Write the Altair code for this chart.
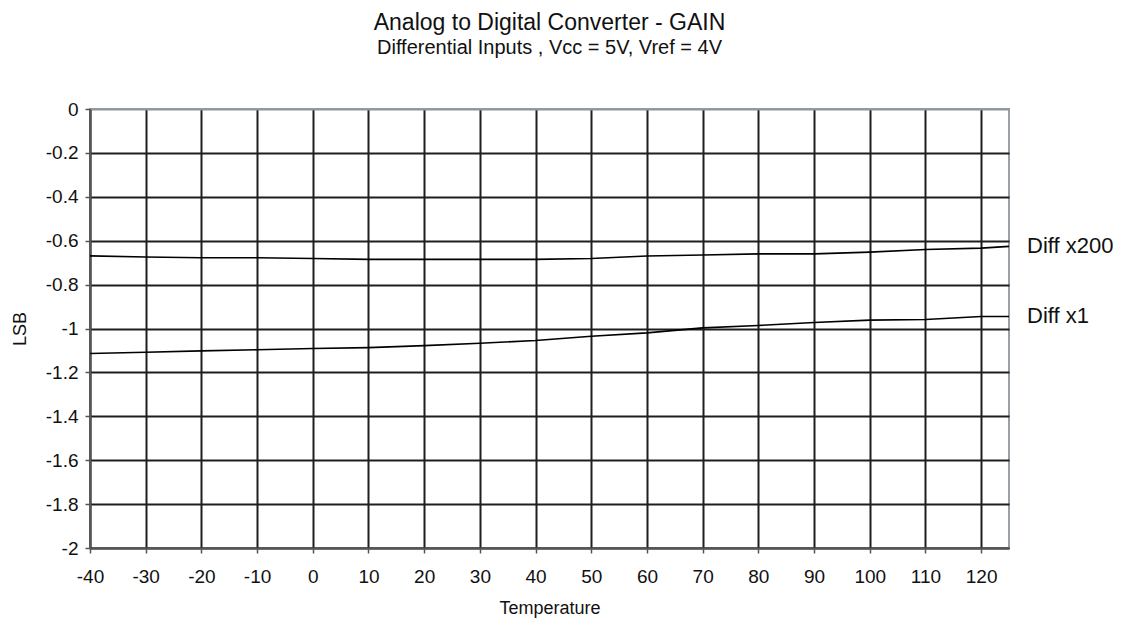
import altair as alt
import pandas as pd

# ---- data ----
temps = [-40, -30, -20, -10, 0, 10, 20, 30, 40, 50, 60, 70, 80, 90, 100, 110, 120, 125]
diff_x200 = [-0.669, -0.674, -0.678, -0.678, -0.681, -0.685, -0.685, -0.685, -0.685,
             -0.681, -0.670, -0.665, -0.660, -0.660, -0.652, -0.640, -0.634, -0.626]
diff_x1 = [-1.114, -1.108, -1.102, -1.097, -1.091, -1.087, -1.078, -1.067, -1.055,
           -1.035, -1.020, -0.997, -0.986, -0.973, -0.962, -0.959, -0.945, -0.945]
series_names = ["Diff x200", "Diff x1"]
x_ticks = [-40, -30, -20, -10, 0, 10, 20, 30, 40, 50, 60, 70, 80, 90, 100, 110, 120]
y_ticks = [0, -0.2, -0.4, -0.6, -0.8, -1, -1.2, -1.4, -1.6, -1.8, -2]

rows = []
for name, vals in zip(series_names, [diff_x200, diff_x1]):
    for t, v in zip(temps, vals):
        rows.append({"Temperature": t, "LSB": v, "series": name})
df = pd.DataFrame(rows)
last = df[df["Temperature"] == temps[-1]]

FONT = "Liberation Sans"
GRID = "#1e1e1e"

x = alt.X(
    "Temperature:Q",
    scale=alt.Scale(domain=[-40, 125], nice=False, zero=False),
    axis=alt.Axis(
        values=x_ticks,
        labelExpr="replace(datum.label, '\u2212', '-')",
        title="Temperature",
        titleFontWeight="normal",
        titleFontSize=18,
        titlePadding=13,
        labelFontSize=19,
        labelPadding=14,
        tickSize=5,
        labelFlush=False,
        gridColor=GRID,
    ),
)
y = alt.Y(
    "LSB:Q",
    scale=alt.Scale(domain=[-2, 0], nice=False, zero=False),
    axis=alt.Axis(
        values=y_ticks,
        labelExpr="datum.value == 0 ? '0' : '-' + format(-datum.value, '~g')",
        title="LSB",
        titleFontWeight="normal",
        titleFontSize=18,
        titlePadding=16,
        labelFontSize=19,
        labelPadding=7,
        tickSize=5,
        gridColor=alt.condition("datum.value == 0", alt.value("#8f959b"), alt.value(GRID)),
    ),
)

lines = alt.Chart(df).mark_line(color="black", strokeWidth=1.6).encode(
    x=x, y=y, detail="series:N"
)
labels = alt.Chart(last).mark_text(
    align="left", baseline="middle", dx=18, fontSize=22, font=FONT, color="#111"
).encode(x="Temperature:Q", y="LSB:Q", text="series:N")

chart = (
    alt.layer(lines, labels)
    .properties(
        width=919,
        height=439,
        autosize=alt.AutoSizeParams(type="none"),
        padding={"left": 82, "top": 101, "right": 110, "bottom": 70},
        title=alt.TitleParams(
            text="Analog to Digital Converter - GAIN",
            subtitle="Differential Inputs , Vcc = 5V, Vref = 4V",
            font=FONT,
            subtitleFont=FONT,
            fontSize=23,
            subtitleFontSize=20,
            fontWeight="normal",
            color="#111",
            subtitleColor="#111",
            anchor="middle",
            offset=42,
            subtitlePadding=3,
        ),
    )
    .configure_view(stroke="#9aa0a6", strokeWidth=2)
    .configure_axis(
        labelFont=FONT,
        titleFont=FONT,
        labelColor="#111",
        titleColor="#111",
        domainColor="#555",
        domainWidth=2,
        tickColor="#555",
        tickWidth=1.5,
        gridWidth=2,
        grid=True,
    )
)

chart.save("out.html", embed_options={"renderer": "svg", "actions": False})
